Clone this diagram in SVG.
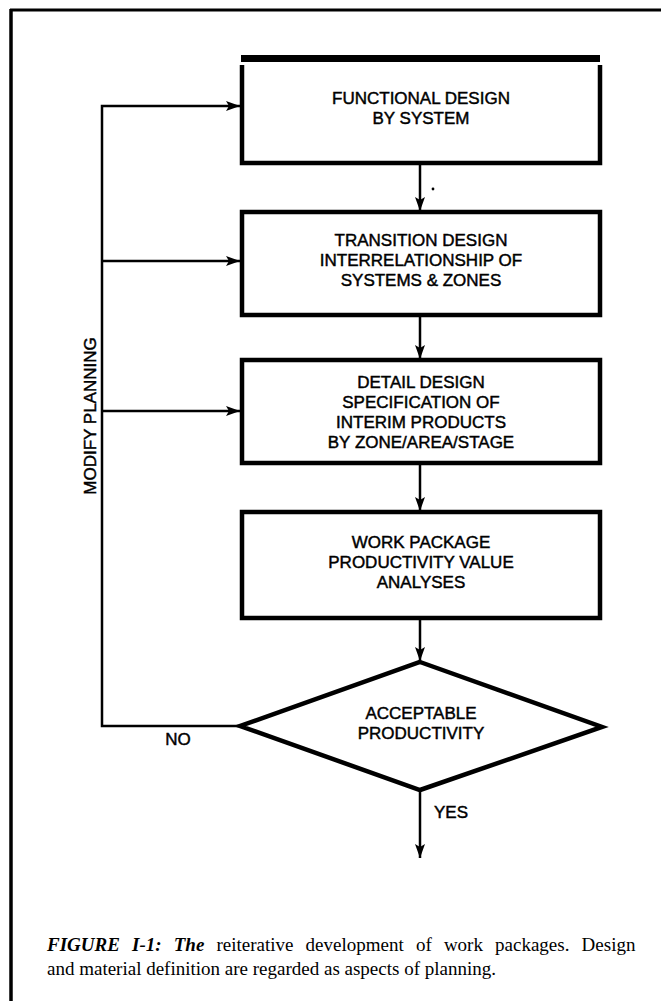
<svg xmlns="http://www.w3.org/2000/svg" width="661" height="1001" viewBox="0 0 661 1001">
<defs>
<style>
.bx{fill:none;stroke:#000;stroke-width:4.5}
.ln{fill:none;stroke:#000;stroke-width:2.5}
.t{font-family:"Liberation Sans",Arial,sans-serif;font-size:17px;fill:#000;stroke:#000;stroke-width:0.45;text-anchor:middle}
.cap{font-family:"Liberation Serif","Times New Roman",serif;font-size:19px;fill:#000}
</style>
<marker id="ah" viewBox="0 0 14 10" refX="14" refY="5" markerWidth="14" markerHeight="10" markerUnits="userSpaceOnUse" orient="auto">
<path d="M0,0 L14,5 L0,10 L3,5 Z" fill="#000"/>
</marker>
</defs>
<rect width="661" height="1001" fill="#fff"/>
<g id="frame">
<line x1="10" y1="10" x2="661" y2="10" stroke="#000" stroke-width="3"/>
<line x1="11" y1="9" x2="11" y2="1001" stroke="#000" stroke-width="3.5"/>
</g>
<g id="connectors">
<line class="ln" x1="420" y1="163" x2="420" y2="211" marker-end="url(#ah)"/>
<circle cx="433" cy="189" r="1.4" fill="#000"/>
<line class="ln" x1="420" y1="315" x2="420" y2="359" marker-end="url(#ah)"/>
<line class="ln" x1="420" y1="463" x2="420" y2="511" marker-end="url(#ah)"/>
<line class="ln" x1="420" y1="618" x2="420" y2="661" marker-end="url(#ah)"/>
<line class="ln" x1="420" y1="790" x2="420" y2="858" marker-end="url(#ah)"/>
<polyline class="ln" points="240,726 102,726 102,106 240,106" marker-end="url(#ah)"/>
<line class="ln" x1="102" y1="261" x2="240" y2="261" marker-end="url(#ah)"/>
<line class="ln" x1="102" y1="411" x2="240" y2="411" marker-end="url(#ah)"/>
<text class="t" x="178" y="745">NO</text>
<text class="t" x="434" y="818" style="text-anchor:start">YES</text>
<text class="t" transform="translate(96,416) rotate(-90)">MODIFY PLANNING</text>
</g>
<g id="n1">
<rect x="241" y="55" width="359" height="7" fill="#000"/>
<polyline class="bx" points="242,65 242,163 600,163 600,65"/>
<text class="t" x="421" y="104">FUNCTIONAL DESIGN</text>
<text class="t" x="421" y="124">BY SYSTEM</text>
</g>
<g id="n2">
<rect class="bx" x="242" y="212" width="358" height="103"/>
<text class="t" x="421" y="246">TRANSITION DESIGN</text>
<text class="t" x="421" y="266">INTERRELATIONSHIP OF</text>
<text class="t" x="421" y="286">SYSTEMS &amp; ZONES</text>
</g>
<g id="n3">
<rect class="bx" x="242" y="360" width="358" height="103"/>
<text class="t" x="421" y="388">DETAIL DESIGN</text>
<text class="t" x="421" y="408">SPECIFICATION OF</text>
<text class="t" x="421" y="428">INTERIM PRODUCTS</text>
<text class="t" x="421" y="448">BY ZONE/AREA/STAGE</text>
</g>
<g id="n4">
<rect class="bx" x="242" y="512" width="358" height="106"/>
<text class="t" x="421" y="548">WORK PACKAGE</text>
<text class="t" x="421" y="568">PRODUCTIVITY VALUE</text>
<text class="t" x="421" y="588">ANALYSES</text>
</g>
<g id="n5">
<polygon class="bx" points="420,662 602,727 420,790 240,726"/>
<text class="t" x="421" y="719">ACCEPTABLE</text>
<text class="t" x="421" y="739">PRODUCTIVITY</text>
</g>
<g id="caption">
<text class="cap" x="47" y="951" word-spacing="7.4"><tspan font-style="italic" font-weight="bold">FIGURE I-1: The</tspan> reiterative development of work packages. Design</text>
<text class="cap" x="47" y="975">and material definition are regarded as aspects of planning.</text>
</g>
</svg>
